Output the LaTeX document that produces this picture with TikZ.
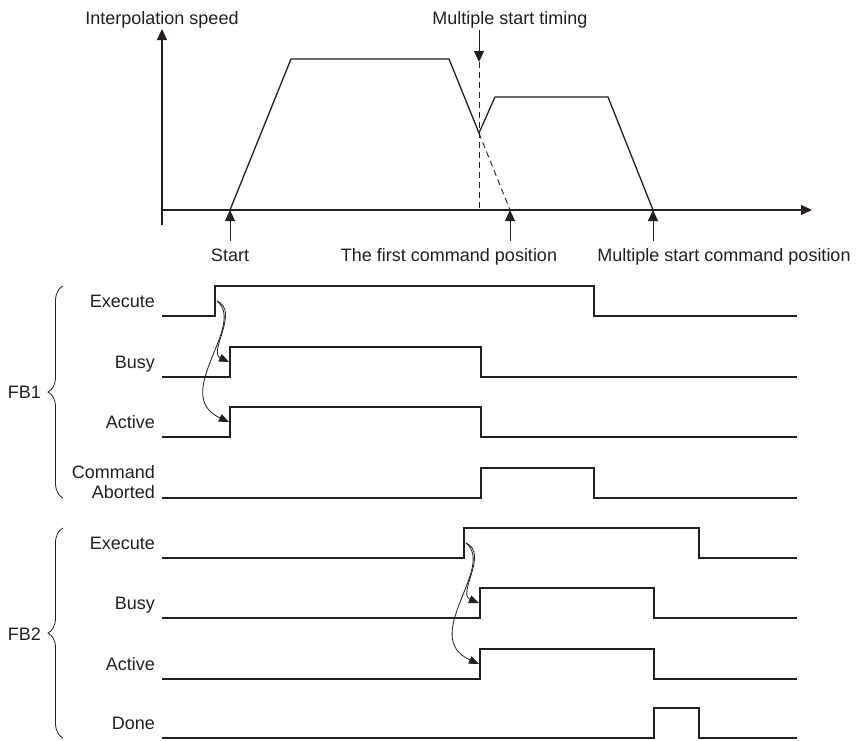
\documentclass[tikz,border=0pt]{standalone}
\usepackage{fontspec}
\setmainfont{Liberation Sans}
\usetikzlibrary{arrows.meta,decorations.pathreplacing}
\definecolor{ink}{RGB}{35,31,32}

\begin{document}
\begin{tikzpicture}[
  x=1pt, y=-1pt,
  every node/.style={font=\fontsize{18}{20}\selectfont, text=ink, inner sep=0pt},
  axis/.style={draw=ink, line width=1.2pt, -{Triangle[length=11pt,width=10pt]}},
  arrow/.style={draw=ink, line width=0.9pt, -{Triangle[length=11pt,width=10pt]}},
  profile/.style={draw=ink, line width=1.3pt, line join=miter},
  guide/.style={draw=ink, line width=0.9pt, dash pattern=on 6pt off 4pt},
  sig/.style={draw=ink, line width=1.3pt},
  cause/.style={draw=ink, line width=0.8pt, -{Triangle[length=10pt,width=8pt]}},
  signame/.style={anchor=base east},
  fbbrace/.style={draw=ink, line width=0.8pt, decorate, decoration={brace, amplitude=15pt}}
]
\useasboundingbox (0,0) rectangle (857,740);

% speed profile
\node[anchor=base] (speed) at (162,24) {Interpolation speed};
\node[anchor=base] (timing) at (510,24) {Multiple start timing};
\draw[axis] (162,225) -- (162,29);
\draw[axis] (162,210) -- (812,210);
\draw[profile] (230,210) -- (291,59) -- (449,59) -- (479,133) -- (495,97) -- (608,97) -- (653,210);
\draw[guide] (479,133) -- (510,210);
\coordinate (tm) at (479,62);
\draw[arrow] (479,30) -- (tm);
\draw[guide] (tm) -- (479,210);

\node[anchor=base] (lstart) at (230,261) {Start};
\node[anchor=base] (lfirst) at (449,261) {The first command position};
\node[anchor=base] (lmulti) at (724,261) {Multiple start command position};
\foreach \x in {230,510,653}
  \draw[arrow] (\x,241) -- (\x,210);

% signals: low level / rising edge / falling edge
\foreach \y/\r/\f in {316/215/594, 377/230/481, 437/230/481, 498/481/594,
                      558/464/699, 618/480/654, 679/480/654, 738/654/699}
  \draw[sig] (162,\y) -- (\r,\y) -- (\r,\y-30) -- (\f,\y-30) -- (\f,\y) -- (797,\y);

\node[signame] (ex1) at (155,307) {Execute};
\node[signame] (busy1) at (155,368) {Busy};
\node[signame] (act1) at (155,428) {Active};
\node[anchor=east, align=right] (abort1) at (155,482) {Command\\Aborted};
\node[signame] (ex2) at (155,549) {Execute};
\node[signame] (busy2) at (155,609) {Busy};
\node[signame] (act2) at (155,670) {Active};
\node[signame] (done2) at (155,729) {Done};

\draw[fbbrace] (63,498) -- (63,286);
\node[anchor=east] (fb1) at (41,392) {FB1};
\draw[fbbrace] (63,738) -- (63,528);
\node[anchor=east] (fb2) at (41,634) {FB2};

% Execute -> Busy / Active
\coordinate (e1) at (217,301);
\coordinate (b1) at (229,362);
\coordinate (a1) at (229,422);
\draw[cause] (e1) .. controls (240,311) and (208,352) .. (b1);
\draw[cause] (e1) .. controls (247,325) and (170,395) .. (a1);
\coordinate (e2) at (466,543);
\coordinate (b2) at (479,603);
\coordinate (a2) at (479,664);
\draw[cause] (e2) .. controls (489,553) and (457,594) .. (b2);
\draw[cause] (e2) .. controls (496,567) and (419,637) .. (a2);

\end{tikzpicture}
\end{document}
